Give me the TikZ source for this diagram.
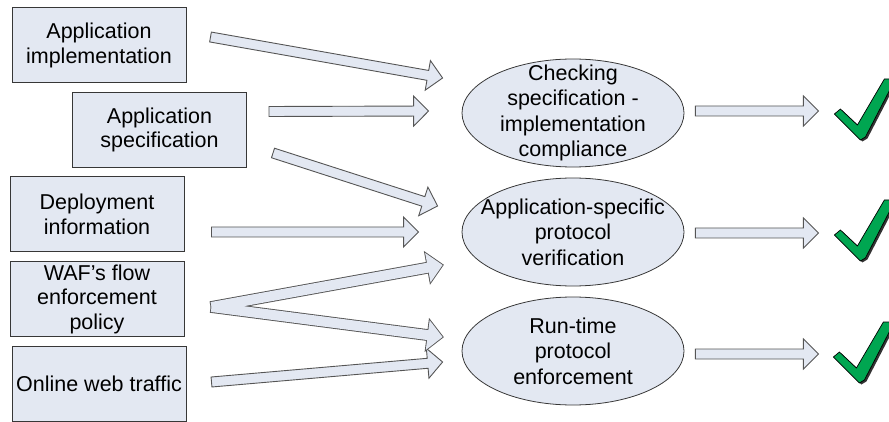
\documentclass[tikz,border=0pt]{standalone}
\usepackage{fontspec}
\setmainfont{Liberation Sans}
\usetikzlibrary{shapes.geometric,calc}

\definecolor{fill1}{RGB}{227,232,242}
\definecolor{edge1}{RGB}{55,55,55}
\definecolor{green1}{RGB}{0,166,81}

\tikzstyle{box} = [draw=edge1, fill=fill1, rectangle, line width=1pt, minimum width=174pt, minimum height=75pt, inner sep=0pt, align=center, font=\fontsize{21.5}{24.5}\selectfont]
\tikzstyle{oval} = [draw=edge1, fill=fill1, ellipse, line width=0.8pt, minimum width=222pt, minimum height=108pt, inner sep=0pt]
\tikzstyle{ovaltext} = [align=center, inner sep=0pt, font=\fontsize{21.5}{25.5}\selectfont]
\tikzstyle{barrow} = [draw=edge1!85, fill=fill1, line width=0.9pt, line join=miter]

% hollow block arrow from #2 to #3
\newcommand{\blockarrow}[3][barrow]{%
  \path[#1] let \p1=($(#3)-(#2)$), \n1={atan2(\y1,\x1)}, \n2={veclen(\x1,\y1)}, \n3={\n2-15pt} in
    [shift={(#2)}, rotate=\n1]
    (0pt,-5pt) -- (\n3,-5pt) -- (\n3,-15pt) -- (\n2,0pt) -- (\n3,15pt) -- (\n3,5pt) -- (0pt,5pt) -- cycle;}

% green tick with its shadow, #1 is the bottom point
\newcommand{\okmark}[1]{%
  \fill[black!80, shift={(#1)}, xshift=2pt, yshift=-1.5pt]
    (-28,-25) -- (-22,-30) -- (-5,-14) -- (22,-60) -- (33,-60) -- (3,-2) -- (-2,1) -- cycle;
  \filldraw[fill=green1, draw=black, line width=0.7pt, line join=round, shift={(#1)}]
    (-28,-25) -- (-22,-30) -- (-5,-14) -- (22,-60) -- (33,-60) -- (3,-2) -- (-2,1) -- cycle;}

\begin{document}
\begin{tikzpicture}[x=1pt, y=-1pt, node distance=84.5pt]
	\useasboundingbox (0,0) rectangle (889,422);

	\node [box] (impl) at (99,45.5) {Application\\implementation};
	\node [box, below of=impl, xshift=60.5pt] (spec) {Application\\specification};
	\node [box, below of=spec, xshift=-62.5pt] (deploy) {Deployment\\information};
	\node [box, below of=deploy] (waf) {WAF's flow\\enforcement\\policy};
	\node [box, below of=waf, xshift=2pt] (traffic) {Online web traffic};

	\node [oval] (compl) at (573,113) {};
	\node [oval, below of=compl, node distance=119pt] (verif) {};
	\node [oval, below of=verif, node distance=119pt] (enforce) {};
	\node [ovaltext] (compl-txt) at (compl) {Checking\\specification -\\implementation\\compliance};
	\node [ovaltext] (verif-txt) at (verif) {Application-specific\\protocol\\verification};
	\node [ovaltext] (enforce-txt) at (enforce) {Run-time\\protocol\\enforcement};

	% arrow ends
	\coordinate (impl-t) at ($(impl.east)+(24,-8.5)$);
	\coordinate (spec-t1) at ($(spec.east)+(22,-18.5)$);
	\coordinate (spec-t2) at ($(spec.east)+(26,23)$);
	\coordinate (deploy-t) at ($(deploy.east)+(27,17.5)$);
	\coordinate (waf-t) at ($(waf.east)+(27,8)$);
	\coordinate (traffic-t) at ($(traffic.east)+(25,-1.5)$);
	\coordinate (compl-h1) at ($(compl.west)+(-19,-35)$);
	\coordinate (compl-h2) at ($(compl.west)+(-33,-2)$);
	\coordinate (verif-h1) at ($(verif.west)+(-24,-26)$);
	\coordinate (verif-h2) at ($(verif.west)+(-43,0)$);
	\coordinate (verif-h3) at ($(verif.west)+(-19,33)$);
	\coordinate (enforce-h1) at ($(enforce.west)+(-19,-14)$);
	\coordinate (enforce-h2) at ($(enforce.west)+(-19,11)$);

	\blockarrow{impl-t}{compl-h1}
	\blockarrow{spec-t1}{compl-h2}
	\blockarrow{spec-t2}{verif-h1}
	\blockarrow{deploy-t}{verif-h2}
	\blockarrow{traffic-t}{enforce-h2}
	% the forked pair from the policy box
	\blockarrow[draw=edge1!85, line width=1.8pt, line join=miter]{waf-t}{verif-h3}
	\blockarrow[draw=edge1!85, line width=1.8pt, line join=miter]{waf-t}{enforce-h1}
	\blockarrow[fill=fill1]{waf-t}{verif-h3}
	\blockarrow[fill=fill1]{waf-t}{enforce-h1}

	% results
	\coordinate (compl-o) at ($(compl.east)+(11,-2)$);
	\coordinate (compl-p) at ($(compl.east)+(134,-2)$);
	\coordinate (verif-o) at ($(verif.east)+(11,1)$);
	\coordinate (verif-p) at ($(verif.east)+(134,1)$);
	\coordinate (enforce-o) at ($(enforce.east)+(11,3)$);
	\coordinate (enforce-p) at ($(enforce.east)+(134,3)$);
	\blockarrow{compl-o}{compl-p}
	\blockarrow{verif-o}{verif-p}
	\blockarrow{enforce-o}{enforce-p}

	\coordinate (ok1) at ($(compl-p)+(44,28)$);
	\coordinate (ok2) at ($(verif-p)+(44,27)$);
	\coordinate (ok3) at ($(enforce-p)+(43,28)$);
	\okmark{ok1}
	\okmark{ok2}
	\okmark{ok3}
\end{tikzpicture}
\end{document}
